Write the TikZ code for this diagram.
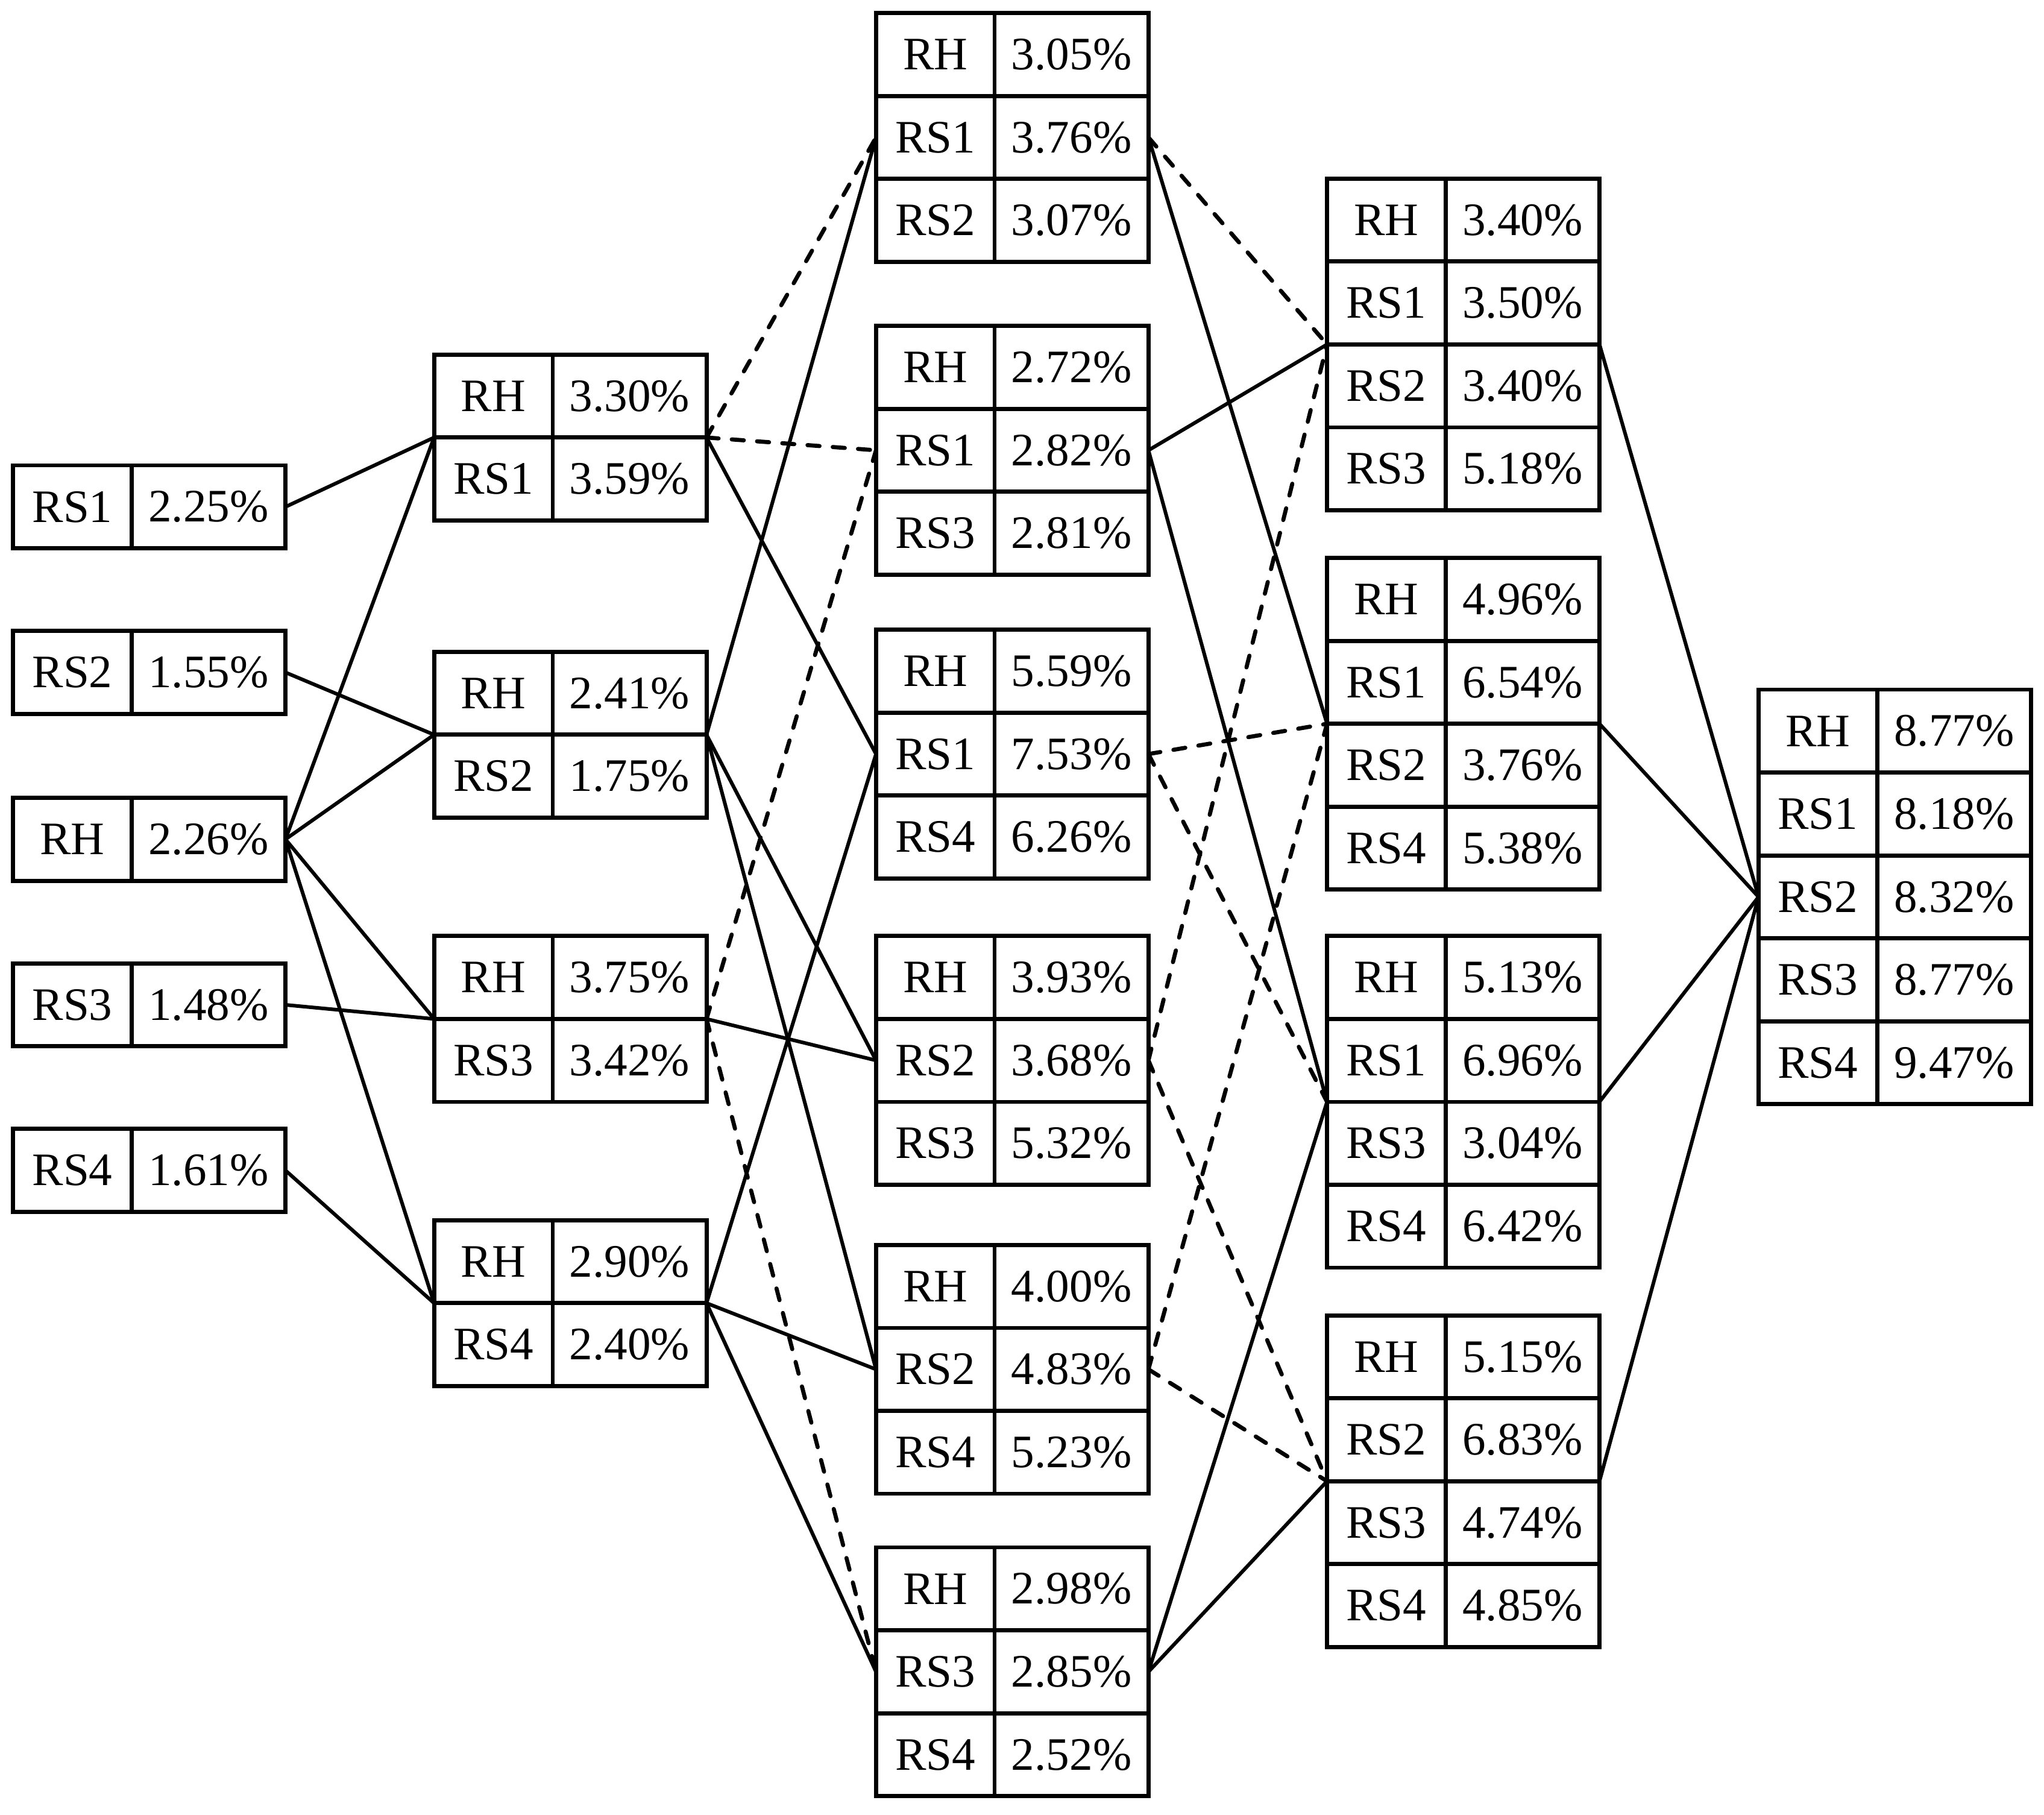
\documentclass[tikz,border=0pt]{standalone}
\usepackage{fontspec}
\setmainfont{Liberation Serif}
\begin{document}
\tikzset{
  cell/.style={draw, line width=1.7pt, inner sep=0pt, outer sep=0pt, minimum height=34.39pt, font=\fontsize{19.3}{23}\selectfont, anchor=north west},
  lcell/.style={cell, minimum width=49.2pt},
  rcell/.style={cell, minimum width=63.8pt},
  boxarea/.style={inner sep=0pt, outer sep=0pt, minimum width=113pt, anchor=north west},
  link/.style={line width=1.5pt},
  dlink/.style={line width=1.7pt, line cap=round, dash pattern=on 5pt off 5.5pt},
}
\newcommand\tbox[4]{%
  \node[boxarea, minimum height=#3*34.39pt] (#1) at #2 {};
  \foreach \l/\v [count=\i] in {#4} {
    \node[lcell] (#1-\i) at ([yshift=-(\i-1)*34.39pt]#1.north west) {\l};
    \node[rcell] (#1-\i-v) at (#1-\i.north east) {\v};
  }
}
\begin{tikzpicture}[x=0.5407pt, y=-0.5407pt]
\useasboundingbox (0,0) rectangle (1568,1392);
% column 1
\tbox{p1}{(10,357)}{1}{RS1/2.25\%}
\tbox{p2}{(10,484)}{1}{RS2/1.55\%}
\tbox{p3}{(10,612)}{1}{RH/2.26\%}
\tbox{p4}{(10,739)}{1}{RS3/1.48\%}
\tbox{p5}{(10,866)}{1}{RS4/1.61\%}
% column 2
\tbox{qA}{(333,272)}{2}{RH/3.30\%, RS1/3.59\%}
\tbox{qB}{(333,500)}{2}{RH/2.41\%, RS2/1.75\%}
\tbox{qC}{(333,718)}{2}{RH/3.75\%, RS3/3.42\%}
\tbox{qD}{(333,936)}{2}{RH/2.90\%, RS4/2.40\%}
% column 3
\tbox{r1}{(672,10)}{3}{RH/3.05\%, RS1/3.76\%, RS2/3.07\%}
\tbox{r2}{(672,250)}{3}{RH/2.72\%, RS1/2.82\%, RS3/2.81\%}
\tbox{r3}{(672,483)}{3}{RH/5.59\%, RS1/7.53\%, RS4/6.26\%}
\tbox{r4}{(672,718)}{3}{RH/3.93\%, RS2/3.68\%, RS3/5.32\%}
\tbox{r5}{(672,955)}{3}{RH/4.00\%, RS2/4.83\%, RS4/5.23\%}
\tbox{r6}{(672,1187)}{3}{RH/2.98\%, RS3/2.85\%, RS4/2.52\%}
% column 4
\tbox{sa}{(1018,137)}{4}{RH/3.40\%, RS1/3.50\%, RS2/3.40\%, RS3/5.18\%}
\tbox{sb}{(1018,428)}{4}{RH/4.96\%, RS1/6.54\%, RS2/3.76\%, RS4/5.38\%}
\tbox{sc}{(1018,718)}{4}{RH/5.13\%, RS1/6.96\%, RS3/3.04\%, RS4/6.42\%}
\tbox{sd}{(1018,1009)}{4}{RH/5.15\%, RS2/6.83\%, RS3/4.74\%, RS4/4.85\%}
% column 5
\tbox{tt}{(1349,529)}{5}{RH/8.77\%, RS1/8.18\%, RS2/8.32\%, RS3/8.77\%, RS4/9.47\%}
% connectors col1 -> col2
\draw[link] (p1.east) -- (qA.west);
\draw[link] (p2.east) -- (qB.west);
\draw[link] (p3.east) -- (qA.west);
\draw[link] (p3.east) -- (qB.west);
\draw[link] (p3.east) -- (qC.west);
\draw[link] (p3.east) -- (qD.west);
\draw[link] (p4.east) -- (qC.west);
\draw[link] (p5.east) -- (qD.west);
% col2 -> col3
\draw[dlink] (qA.east) -- (r1.west);
\draw[dlink] (qA.east) -- (r2.west);
\draw[link] (qA.east) -- (r3.west);
\draw[link] (qB.east) -- (r1.west);
\draw[link] (qB.east) -- (r4.west);
\draw[link] (qB.east) -- (r5.west);
\draw[dlink] (qC.east) -- (r2.west);
\draw[link] (qC.east) -- (r4.west);
\draw[dlink] (qC.east) -- (r6.west);
\draw[link] (qD.east) -- (r3.west);
\draw[link] (qD.east) -- (r5.west);
\draw[link] (qD.east) -- (r6.west);
% col3 -> col4
\draw[dlink] (r1.east) -- (sa.west);
\draw[link] (r1.east) -- (sb.west);
\draw[link] (r2.east) -- (sa.west);
\draw[link] (r2.east) -- (sc.west);
\draw[dlink] (r3.east) -- (sb.west);
\draw[dlink] (r3.east) -- (sc.west);
\draw[dlink] (r4.east) -- (sa.west);
\draw[dlink] (r4.east) -- (sd.west);
\draw[dlink] (r5.east) -- (sb.west);
\draw[dlink] (r5.east) -- (sd.west);
\draw[link] (r6.east) -- (sc.west);
\draw[link] (r6.east) -- (sd.west);
% col4 -> col5
\draw[link] (sa.east) -- (tt.west);
\draw[link] (sb.east) -- (tt.west);
\draw[link] (sc.east) -- (tt.west);
\draw[link] (sd.east) -- (tt.west);
\end{tikzpicture}
\end{document}
